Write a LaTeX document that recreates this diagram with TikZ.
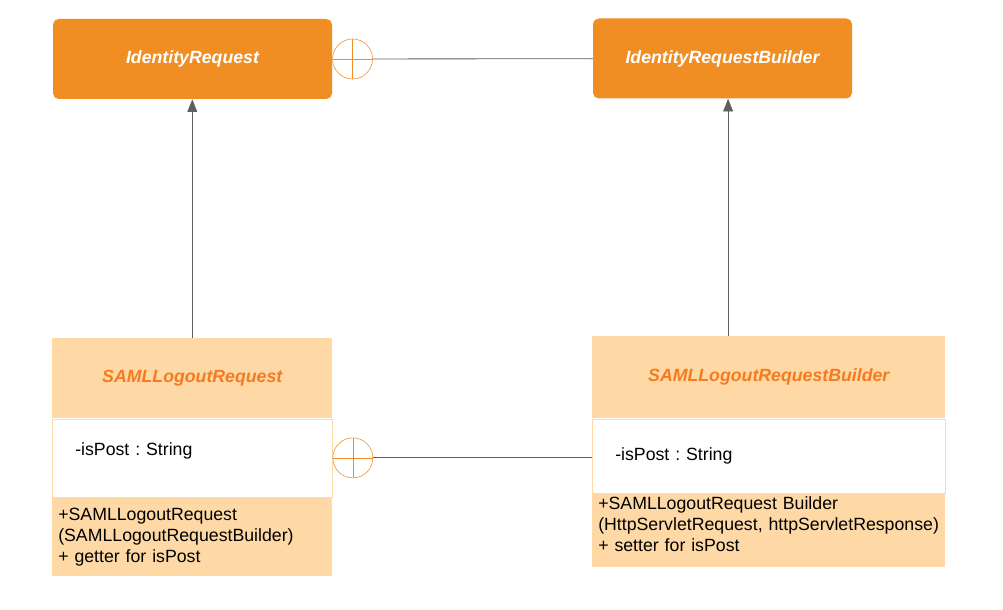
\documentclass[tikz,border=0pt]{standalone}
\usepackage{fontspec}
\setmainfont{Liberation Sans}
\usetikzlibrary{arrows.meta,positioning}
\definecolor{IfaceOrange}{HTML}{F08E24}
\definecolor{ClassFill}{HTML}{FED9A5}
\definecolor{TitleOrange}{HTML}{F47B20}
\definecolor{LinkGray}{HTML}{5F5F5F}
\newcommand{\diagsize}{\fontsize{12.6}{15}\selectfont\frenchspacing}
\tikzset{
  iface/.style={fill=IfaceOrange, rounded corners=4pt, minimum height=2cm, text=white, font=\diagsize\bfseries\itshape},
  classhead/.style={fill=ClassFill, text=TitleOrange, font=\diagsize\bfseries\itshape, anchor=north west},
  classattr/.style={fill=white, draw=ClassFill, align=left, inner xsep=0.575cm},
  classops/.style={fill=ClassFill, align=left, inner xsep=0.15cm},
  nest/.style={circle, draw=IfaceOrange, minimum size=1cm, inner sep=0pt,
    path picture={\draw[IfaceOrange] (path picture bounding box.north) -- (path picture bounding box.south)
      (path picture bounding box.west) -- (path picture bounding box.east);}},
  link/.style={LinkGray, line width=0.6pt},
}

\begin{document}
\begin{tikzpicture}[>={Triangle[width=7pt,length=9pt]}, font=\diagsize]
\useasboundingbox (0,0) rectangle (25.075,-15.25);
% interfaces
\node[iface, minimum width=6.975cm] (ir) at (4.8125,-1.475) {IdentityRequest};
\node[iface, minimum width=6.475cm] (irb) at (18.0625,-1.4625) {IdentityRequestBuilder};
\node[nest, right=0pt of ir] (nestTop) {};
\draw[link] (nestTop) -- (irb);
% SAMLLogoutRequest
\node[classhead, minimum width=7cm, minimum height=2cm] (slr) at (1.3,-8.45) {SAMLLogoutRequest};
\node[classattr, below=0pt of slr, text width=5.85cm, minimum height=1.95cm, text depth=0.45cm] (slrAttr) {-isPost : String};
\node[classops, below=0pt of slrAttr, text width=6.7cm, minimum height=1.975cm] (slrOps) {+SAMLLogoutRequest\\(SAMLLogoutRequestBuilder)\\+ getter for isPost};
% SAMLLogoutRequestBuilder
\node[classhead, minimum width=8.825cm, minimum height=2.05cm] (slrb) at (14.8,-8.4) {SAMLLogoutRequestBuilder};
\node[classattr, below=0pt of slrb, text width=7.675cm, minimum height=1.85cm] (slrbAttr) {-isPost : String};
\node[classops, below=0pt of slrbAttr, text width=8.525cm, minimum height=1.85cm, inner ysep=0pt] (slrbOps) {+SAMLLogoutRequest Builder\\(HttpServletRequest, httpServletResponse)\\+ setter for isPost\\[-0.23cm]\mbox{}};
\node[nest, right=0pt of slrAttr] (nestLow) {};
\draw[link] (nestLow.east) -- (nestLow.east -| slrbAttr.west);
% generalisation
\draw[link, ->] (slr.north) -- (slr.north |- ir.south);
\draw[link, ->] ([xshift=0.14cm]irb.south |- slrb.north) -- ([xshift=0.14cm]irb.south);
\end{tikzpicture}
\end{document}
